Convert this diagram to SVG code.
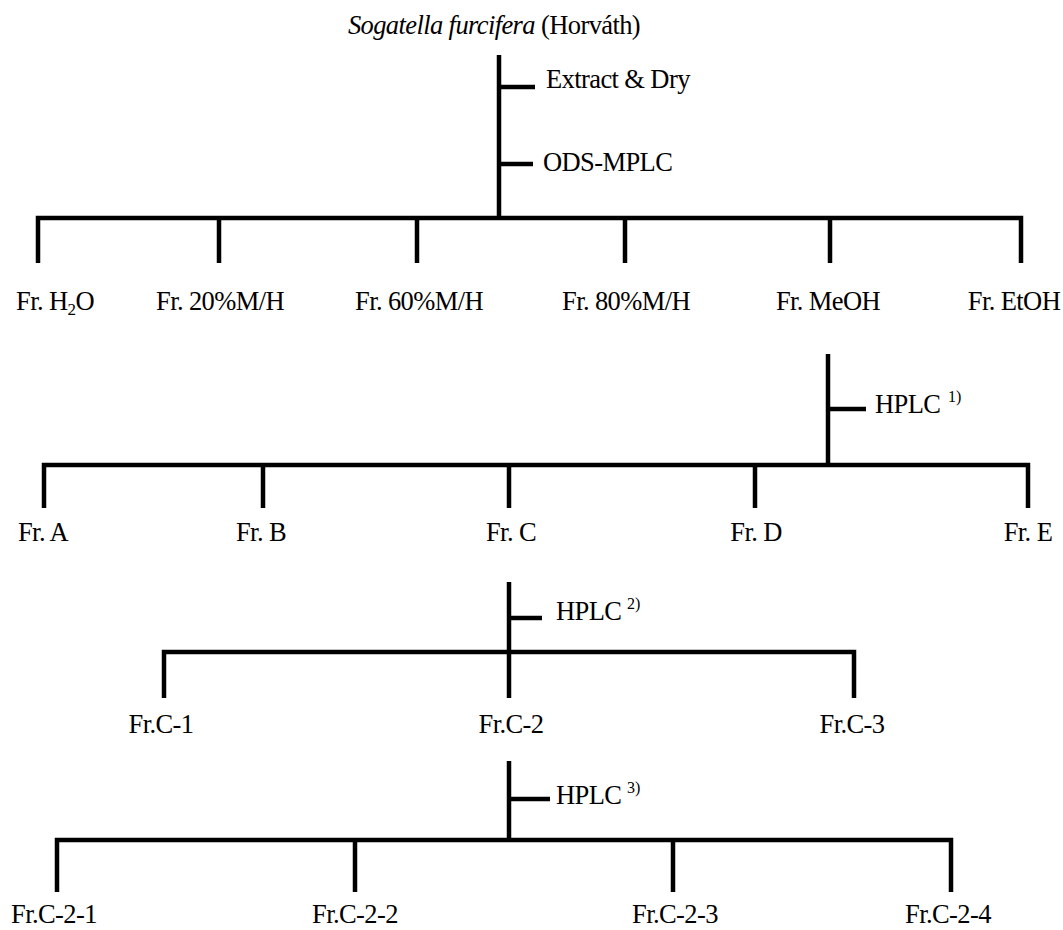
<svg xmlns="http://www.w3.org/2000/svg" width="1063" height="930" viewBox="0 0 1063 930">
<style>
text{font-family:"Liberation Serif","Times New Roman",serif;font-size:26.5px;letter-spacing:-0.6px;fill:#000}
.c{text-anchor:middle}
.sup{font-size:16px;letter-spacing:0}
.ln{stroke:#000;stroke-width:4.5;fill:none;stroke-linejoin:miter;stroke-linecap:butt}
</style>
<rect width="1063" height="930" fill="#fff"/>
<g id="connectors">
<path class="ln" d="M499,55V218"/>
<path class="ln" d="M499,87H535"/>
<path class="ln" d="M499,164H533"/>
<path class="ln" d="M38,263V218H1021V263"/>
<path class="ln" d="M219,218V263M417,218V263M625,218V263M830,218V263"/>
<path class="ln" d="M828,354V465"/>
<path class="ln" d="M828,409H866"/>
<path class="ln" d="M44,508V465H1028V508"/>
<path class="ln" d="M263,465V508M509,465V508M755,465V508"/>
<path class="ln" d="M509,582V698"/>
<path class="ln" d="M509,618H542"/>
<path class="ln" d="M164,698V652H854V698"/>
<path class="ln" d="M509,761V840"/>
<path class="ln" d="M509,799H550"/>
<path class="ln" d="M57,892V840H951V892"/>
<path class="ln" d="M355,840V892M673,840V892"/>
</g>
<g id="n-root"><text class="c" x="494" y="34"><tspan font-style="italic">Sogatella furcifera</tspan> (Horváth)</text></g>
<g id="s-extract"><text x="546" y="88">Extract &amp; Dry</text></g>
<g id="s-ods"><text x="543" y="171">ODS-MPLC</text></g>
<g id="n-h2o"><text class="c" x="55" y="310">Fr. H<tspan font-size="17" dy="5">2</tspan><tspan dy="-5">O</tspan></text></g>
<g id="n-20"><text class="c" x="220" y="310">Fr. 20%M/H</text></g>
<g id="n-60"><text class="c" x="419" y="310">Fr. 60%M/H</text></g>
<g id="n-80"><text class="c" x="626" y="310">Fr. 80%M/H</text></g>
<g id="n-meoh"><text class="c" x="828" y="310">Fr. MeOH</text></g>
<g id="n-etoh"><text class="c" x="1014" y="310">Fr. EtOH</text></g>
<g id="s-hplc1"><text x="875" y="413">HPLC</text><text class="sup" x="948" y="402">1)</text></g>
<g id="n-a"><text class="c" x="43" y="541">Fr. A</text></g>
<g id="n-b"><text class="c" x="261" y="541">Fr. B</text></g>
<g id="n-c"><text class="c" x="511" y="541">Fr. C</text></g>
<g id="n-d"><text class="c" x="756" y="541">Fr. D</text></g>
<g id="n-e"><text class="c" x="1028" y="541">Fr. E</text></g>
<g id="s-hplc2"><text x="556" y="620">HPLC</text><text class="sup" x="627" y="609">2)</text></g>
<g id="n-c1"><text class="c" x="161" y="733">Fr.C-1</text></g>
<g id="n-c2"><text class="c" x="511" y="733">Fr.C-2</text></g>
<g id="n-c3"><text class="c" x="852" y="733">Fr.C-3</text></g>
<g id="s-hplc3"><text x="556" y="804">HPLC</text><text class="sup" x="627" y="793">3)</text></g>
<g id="n-c21"><text class="c" x="54" y="923">Fr.C-2-1</text></g>
<g id="n-c22"><text class="c" x="355" y="923">Fr.C-2-2</text></g>
<g id="n-c23"><text class="c" x="675" y="923">Fr.C-2-3</text></g>
<g id="n-c24"><text class="c" x="948" y="923">Fr.C-2-4</text></g>
</svg>
